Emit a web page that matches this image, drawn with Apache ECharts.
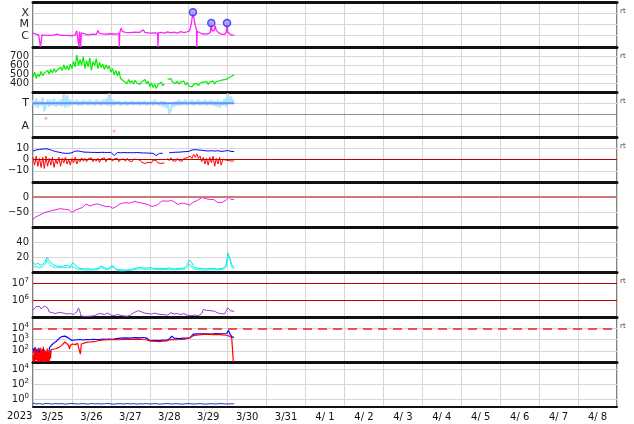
<!DOCTYPE html>
<html><head><meta charset="utf-8">
<script src="https://cdn.jsdelivr.net/npm/echarts@6/dist/echarts.min.js"></script>
<style>html,body{margin:0;padding:0;background:#fff}#c{width:634px;height:424px}</style>
</head><body><div id="c"></div>
<script>
// ---------- DATA (hours since 2023-03-25 00:00 UT) ----------
const yearLabel = '2023';
const days = ['3/25','3/26','3/27','3/28','3/29','3/30','3/31','4/ 1','4/ 2','4/ 3','4/ 4','4/ 5','4/ 6','4/ 7','4/ 8'];
const xrayClassLabels = {'-6':'C','-5':'M','-4':'X'};

const xray = [[0,1.7e-6],[2,1.4e-6],[3.5,1.2e-6],[4.3,1.2e-6],[4.6,1e-7],[5.3,1e-7],[5.6,1.2e-6],[8,1.1e-6],[12,1.1e-6],[15,1.4e-6],[17,1.1e-6],[21,1.1e-6],[24,1.0e-6],[26,1.2e-6],[27,2.8e-6],[28,2.6e-6],[28.3,1e-7],[28.7,2.4e-6],[29.4,1e-7],[29.8,1.8e-6],[31,1.3e-6],[34,1.2e-6],[37,1.4e-6],[39,1.3e-6],[40,2.9e-6],[41,1.6e-6],[44,1.4e-6],[48,1.5e-6],[51,1.4e-6],[53,1.6e-6],[53.2,1e-7],[53.5,2e-6],[54.3,4.8e-6],[55,2.5e-6],[57,2e-6],[60,1.9e-6],[63,2.1e-6],[66,2e-6],[68,3.4e-6],[69,2e-6],[72,1.7e-6],[75,1.8e-6],[76.8,1.7e-6],[77,1e-7],[77.3,1.8e-6],[79,2e-6],[81,1.7e-6],[83,2.2e-6],[85,1.8e-6],[87,2.1e-6],[89,1.7e-6],[91,2.3e-6],[93,1.9e-6],[95,2.2e-6],[96.5,2.8e-6],[97.5,1e-5],[98.6,1.2e-4],[99.3,3e-5],[100,9e-6],[100.8,3e-6],[101,1e-7],[101.2,2.5e-6],[102,2.2e-6],[104,1.5e-6],[106,1.4e-6],[108,1.5e-6],[109.3,2e-6],[109.9,1.35e-5],[110.4,2.5e-6],[111,1.7e-6],[111.7,3e-6],[112.3,7.7e-6],[113,3e-6],[114.5,1.8e-6],[116,1.4e-6],[118,1.3e-6],[119.2,2e-6],[119.6,1.35e-5],[120.1,2e-6],[121,1.4e-6],[122.5,1.1e-6],[124,1.2e-6]];
const flares = [[98.6,1.2e-4],[109.9,1.35e-5],[119.6,1.35e-5]];

// hourly solar wind speed, h = 0..124
const speedVals = [
470,520,450,500,470,530,480,510,490,540,
500,550,510,560,520,545,530,575,540,600,
550,590,545,610,560,640,580,710,590,660,
600,690,560,650,580,680,540,640,590,670,
560,630,570,610,550,600,560,590,520,560,
490,540,480,530,450,440,420,430,395,440,
400,425,390,430,400,420,385,415,400,440,
390,420,360,400,350,390,340,380,360,410,
370,390,null,440,420,450,410,430,395,420,
385,410,390,420,380,405,370,390,355,385,
365,395,370,400,385,410,390,415,385,410,
395,420,390,415,400,425,415,435,420,440,
450,460,470,480,490];

// hourly index values, h = 0..124 (T level = 3, A level = 1)
const tVals = [
3.3,2.7,3.4,2.6,3.2,2.8,3.5,2.3,2.2,3.3,
2.7,3.3,2.8,3.4,2.7,3.2,2.8,3.3,2.7,3.8,
2.6,3.7,2.7,3.3,2.8,3.2,2.9,3.3,2.8,3.2,
2.8,3.3,2.9,3.2,2.8,3.3,2.9,3.2,2.8,3.3,
2.9,3.2,2.8,3.3,2.9,3.4,2.8,3.85,2.7,3.3,
2.8,3.2,2.9,3.2,2.8,3.1,2.9,3.2,2.8,3.1,
2.9,3.2,2.85,3.1,2.9,3.2,2.8,3.15,2.9,3.2,
2.8,3.1,2.9,3.2,2.8,3.3,2.9,3.1,2.8,3.2,
2.7,3.2,2.6,3.0,2.1,2.4,3.1,2.7,3.2,2.8,
3.3,2.8,3.2,2.9,3.3,2.8,3.2,2.9,3.3,2.8,
3.2,2.9,3.3,2.8,3.2,2.9,3.3,2.8,3.2,2.9,
3.3,2.8,3.2,2.7,3.3,2.6,3.2,2.8,3.4,2.7,
3.85,3.0,3.6,3.1,3.2];
const tLevel = [[0,3],[124,3]];
const aDots = [[8,1.66],[50,0.53]];

// IMF: Bt every 2 h (h = 0..124), Bz hourly (h = 0..124)
const btVals = [7.5,8.5,9,9.3,9.5,9,8,7,6.5,5.8,
5.5,5.5,6,7.5,7.5,7,6.5,6.5,6.3,6.3,
6.2,6.4,6.3,6.2,6.4,3.5,6.2,6,6.2,6,
6.1,6,6.2,6,5.8,5.8,5.6,5.5,3.5,5.5,
5.5,null,6,6.2,6.5,6.5,6.8,7,7.2,8.5,
8.7,8.5,8.2,7.8,7.6,7.8,7.5,7.8,7.2,7.5,
8,7.2,7];
const bzVals = [
2,-5,3,-6,1,-7,2,-8,3,-6,
1,-5,2,-7,0,-4,2,-6,1,-3,
2,-4,0,-5,1,-3,2,-4,0,-2,
1.5,-1.5,1,-2,0.5,-1,1.5,-2,0.5,-1.5,
1,-2.5,0.5,-1,1.5,-2,0.5,-1,1,-1.5,
0.5,-1,1,-2,0,-1,0.5,-1.5,1,-1,
0,-2,0.5,-1,0,-1.5,-0.5,-2.5,-1,-3.5,
-5,-2.5,-1,-3,-0.5,-2,-1,-3,-2,-3.5,
-2,-3,null,1,-1,1.5,-1,0.5,-1.5,1,
-1,0.5,-1.5,1,-0.5,1.5,0.5,3,1,4.5,
2,5,1,3,-2,2,-4,1,-5,2,
-3,3,-6,1,-4,2,-5,0,-1.5,-0.5,
-2,-1,-0.5,-1.5,-1];

const dst = [[0,-74],[1.8,-66],[4.3,-60],[7.4,-51],[10.5,-47],[13.6,-43],[16.6,-39],[19.7,-41],[22.2,-43],[24,-51],[26.5,-43],[29,-38],[30.8,-34],[32.7,-23],[35.1,-30],[37.6,-25],[40,-23],[42.5,-28],[45,-32],[47.5,-32],[49.3,-38],[51.8,-30],[53.7,-23],[56.7,-19],[59.8,-20],[62.9,-14],[64.7,-18],[67.2,-20],[70.3,-24],[73.4,-32],[76.4,-27],[79.5,-13],[82.6,-14],[85.7,-12],[87.5,-18],[89.4,-25],[91.9,-20],[94.3,-23],[96.8,-27],[98.6,-18],[101,-12],[104.2,-2],[106.7,-6],[109.1,-8],[111.6,-9],[114,-19],[116.5,-18],[119,-11],[120.8,0],[122,-8],[124,-8]];

const cyanA = [[0,12],[1.5,10],[3,12],[4.5,9],[6,10],[7.5,14],[8.5,19.5],[9.5,18],[10.5,14],[11.5,11],[13,9],[15,8],[17,7.5],[19,8],[21,9],[23,7],[24.5,12.5],[26,10],[27.5,6],[29,5],[31,4],[34,4.5],[37,3.5],[40,5],[42,8],[44,6],[46,4],[48,7.5],[49.5,8],[51,4],[54,3],[57,2.5],[60,3],[63,5],[66,6],[69,5],[72,6],[75,4.5],[78,5],[81,4.5],[84,5.5],[87,4],[90,5],[93,5],[95,9],[96.5,16],[98,12],[99.5,6],[102,5],[106,4],[110,5],[114,4],[117,5],[119,9],[120.2,25.5],[121.3,24],[122.5,10],[124,6]];
const cyanB = [[0,8],[2,7],[4,6],[6,7],[7.5,10],[8.5,16],[9.5,14],[10.5,9],[12,7],[14,6],[16,6.5],[18,5.5],[20,6],[22,5.5],[24,7],[25,9],[26.5,5],[28,3.5],[31,3],[34,2.5],[37,3],[40,3],[42,6],[44,4],[46,3],[48,5],[50,6],[52,2],[55,1.5],[58,2],[61,2.5],[64,4],[67,4],[70,3.5],[73,4],[76,3.5],[79,3],[82,3.5],[85,3],[88,3],[91,3.5],[94,4],[95.5,7],[96.5,11],[97.5,9],[99,4],[102,3],[106,2.5],[110,3],[114,3],[117,3.5],[119,6],[120.2,21],[121.3,18],[122.5,7],[124,4]];

const electronFlux = [[0,2.5e5],[1,3.2e5],[2,4.2e5],[4,4.3e5],[5,3e5],[6,2.5e5],[7,4.5e5],[8,5.5e5],[9,3.5e5],[10,2e5],[11,2.4e5],[12,1.8e5],[14,1.6e5],[16,1.9e5],[17,1.5e5],[19,1.7e5],[21,1.5e5],[23,1.6e5],[25,1.4e5],[27,2e5],[28,3.5e5],[29,2e5],[29.5,1.2e5],[31,1.1e5],[35,1.1e5],[38,1.2e5],[40,1.5e5],[42,1.6e5],[44,1.4e5],[46,1.7e5],[48,1.3e5],[50,1.2e5],[52,1.4e5],[55,1.2e5],[58,1.1e5],[60,1.3e5],[62,1.8e5],[63,2.2e5],[65,2.4e5],[67,2e5],[69,1.7e5],[71,1.6e5],[73,1.5e5],[75,1.7e5],[77,1.5e5],[80,1.4e5],[83,1.3e5],[85,1.8e5],[87,1.5e5],[89,1.6e5],[91,1.4e5],[93,1.6e5],[95,1.3e5],[98,1.2e5],[100,1.3e5],[102,1.2e5],[104,1.6e5],[105,2.8e5],[106,3.2e5],[107,2.5e5],[108,3e5],[109,2.4e5],[110,1.9e5],[112,2.2e5],[114,1.7e5],[116,1.6e5],[118,1.5e5],[119,2.2e5],[120,3.5e5],[121,3.2e5],[122,2.3e5],[124,2.2e5]];
const electronLevels = [1e6, 1e7];

const fluxBlue = [[0,160],[0.6,70],[1.2,200],[1.8,50],[2.4,150],[3,30],[3.6,180],[4.2,60],[4.8,120],[5.4,25],[6,140],[6.6,40],[7.2,100],[7.8,20],[8.4,80],[9,12],[9.6,10],[10.2,200],[11.5,320],[13,500],[14.6,740],[16,1200],[17.7,1800],[19.7,2000],[21.8,1400],[23.8,850],[25,1000],[27,950],[29,1000],[31,900],[33,1000],[35,950],[37,1050],[39,1000],[41,1000],[43,1100],[45,1050],[47,1100],[49,1050],[51.6,1200],[54,1300],[57,1400],[60,1350],[63,1450],[66,1400],[68,1500],[70,1350],[72,800],[75,850],[78,800],[80,900],[82.4,850],[84,1100],[85.5,2000],[87,1300],[90,1200],[93,1300],[96.8,1400],[98.8,3000],[102,3200],[105,3100],[107,3200],[110,3000],[113,3300],[116,3100],[119.4,3400],[120.4,6300],[121.5,3000],[122.5,1800],[124,1500]];
const fluxRed = [[0,40],[0.4,10],[0.8,120],[1.2,10],[1.6,200],[2,15],[2.4,80],[2.8,10],[3.2,150],[3.6,10],[4,60],[4.4,10],[4.8,180],[5.2,12],[5.6,100],[6,10],[6.4,220],[6.8,10],[7.2,130],[7.6,10],[8,90],[8.4,10],[8.8,160],[9.2,12],[9.6,70],[10,10],[10.4,110],[10.8,20],[11.2,130],[12,100],[14,150],[16,200],[17.7,300],[19.7,600],[21.8,320],[22.5,150],[23,300],[24.5,400],[26,350],[27.5,450],[28.5,400],[29.2,50],[29.8,400],[31,500],[33,550],[35,600],[37,650],[39,700],[41,850],[44,900],[47,950],[50,1000],[53,950],[56,1000],[59,1050],[62,1000],[65,1100],[68,1000],[70,950],[72,750],[75,700],[78,650],[80,700],[82.4,750],[85,1000],[88,950],[91,1000],[94,1100],[96.8,1500],[98.8,2200],[102,2500],[105,2800],[108,3000],[111,2700],[114,2900],[117,2600],[119.4,2400],[121,2000],[122.5,1400],[123,1300],[123.5,10]];
const fluxThreshold = 1e4;

// every 2 h, h = 0..124
const bottomVals = [0.3,0.26,0.28,0.24,0.3,0.27,0.25,0.29,0.26,0.28,0.24,0.27,0.3,0.26,0.25,0.28,0.27,0.24,0.29,0.26,0.28,0.25,0.27,0.3,0.26,0.24,0.28,0.27,0.25,0.29,0.26,0.28,0.24,0.27,0.26,0.29,0.25,0.27,0.28,0.24,0.26,0.29,0.27,0.25,0.28,0.26,0.24,0.27,0.29,0.26,0.25,0.28,0.27,0.24,0.26,0.28,0.25,0.27,0.29,0.26,0.25,0.27,0.26];

// ---------- CHART ----------
const FONT = 'DejaVu Sans';
const GRID_C = '#d6d6d6';
const N = 9, TOP = 2, PH = 45;
const hourly = (arr, step) => arr.map((v, i) => [i * step, v]);

const grids = [], xAxes = [], series = [];
for (let i = 0; i < N; i++) {
  grids.push({left: 33, right: 17, top: TOP + i * PH, height: PH});
  xAxes.push({type: 'value', gridIndex: i, min: 0, max: 360, interval: 24, position: 'bottom',
    axisLabel: {show: false}, axisTick: {show: false},
    splitLine: {show: true, lineStyle: {color: GRID_C, width: 1}},
    axisLine: {show: true, onZero: false, lineStyle: {color: '#111', width: i === N - 1 ? 2 : 3}}});
}
grids.push({left: 33, right: 17, top: TOP, height: N * PH, show: true, borderColor: '#000', borderWidth: 1, backgroundColor: 'transparent'});
xAxes.push({type: 'value', gridIndex: N, position: 'top', min: 0, max: 360,
  axisLabel: {show: false}, axisTick: {show: false}, splitLine: {show: false},
  axisLine: {show: true, onZero: false, lineStyle: {color: '#111', width: 3}}});
xAxes.push({type: 'category', gridIndex: N, position: 'bottom', data: days, boundaryGap: true,
  axisLine: {show: false}, axisTick: {show: false}, splitLine: {show: false},
  axisLabel: {interval: 0, fontFamily: FONT, fontSize: 10, color: '#111', margin: 5}});

const lbl = (extra) => Object.assign({fontFamily: FONT, fontSize: 10, color: '#222', margin: 4, showMinLabel: false, showMaxLabel: false}, extra || {});
const sup = (v) => { const n = Math.round(Math.log10(v)); return '{b|10}{s|' + n + '}'; };
const supRich = {b: {fontFamily: FONT, fontSize: 10, color: '#222'}, s: {fontFamily: FONT, fontSize: 7, color: '#222', padding: [0, 0, 7, 0]}};
const ybase = (i, o) => Object.assign({gridIndex: i, axisLine: {show: false}, axisTick: {show: false},
  splitLine: {show: true, lineStyle: {color: GRID_C, width: 1}}}, o);

const yA = [
  ybase(0, {type: 'log', min: 1e-7, max: 1e-3, axisLabel: lbl({fontSize: 11, formatter: v => xrayClassLabels[String(Math.round(Math.log10(v)))] || ''})}),
  ybase(1, {type: 'value', min: 300, max: 800, interval: 100, axisLabel: lbl()}),
  ybase(2, {type: 'value', min: 0, max: 4, interval: 1, axisLabel: lbl({fontSize: 11, formatter: v => v === 3 ? 'T' : (v === 1 ? 'A' : '')})}),
  ybase(3, {type: 'value', min: -20, max: 20, interval: 10, axisLabel: lbl({formatter: v => v < 0 ? '\u2212' + (-v) : String(v)})}),
  ybase(4, {type: 'value', min: -100, max: 50, interval: 50, axisLabel: lbl({formatter: v => v < 0 ? '\u2212' + (-v) : String(v)})}),
  ybase(5, {type: 'value', min: 0, max: 60, interval: 20, axisLabel: lbl()}),
  ybase(6, {type: 'log', min: 1e5, max: Math.pow(10, 7.68), splitLine: {show: false}, axisLabel: lbl({formatter: sup, rich: supRich})}),
  ybase(7, {type: 'log', min: 10, max: 1e5, axisLabel: lbl({formatter: sup, rich: supRich})}),
  ybase(8, {type: 'log', logBase: 100, min: 0.1, max: 1e5, axisLabel: lbl({formatter: sup, rich: supRich})}),
  {type: 'value', gridIndex: N, show: false, min: 0, max: 1}
];

const line = (i, data, color, width, extra) => Object.assign({type: 'line', xAxisIndex: i, yAxisIndex: i, data: data,
  showSymbol: false, symbol: 'none', silent: true, animation: false, connectNulls: false,
  lineStyle: {color: color, width: width || 1}, itemStyle: {color: color}}, extra || {});
const mk = (vals, color, width, type) => ({silent: true, symbol: 'none', animation: false, label: {show: false},
  lineStyle: {color: color, width: width, type: type || 'solid'}, data: vals.map(v => ({yAxis: v}))});

series.push(line(0, xray, '#ff22ff', 1.3));
series.push({type: 'scatter', xAxisIndex: 0, yAxisIndex: 0, data: flares, symbolSize: 7, silent: true, animation: false,
  itemStyle: {color: '#9a9aff', borderColor: '#2a2aee', borderWidth: 1.5}, z: 5});
series.push(line(1, hourly(speedVals, 1), '#00ee00', 1.2));
series.push(line(2, hourly(tVals, 1), '#aee6ff', 2.2, {markLine: mk([2], '#8c8c8c', 1)}));
series.push(line(2, tLevel, '#6a8cff', 2));
series.push({type: 'scatter', xAxisIndex: 2, yAxisIndex: 2, data: aDots, symbolSize: 3, silent: true, animation: false, itemStyle: {color: '#ff90ff'}});
series.push(line(3, hourly(bzVals, 1), '#ff0000', 1, {markLine: mk([0], '#c00000', 1)}));
series.push(line(3, hourly(btVals, 2), '#0000ff', 1));
series.push(line(4, dst, '#ee22ee', 1, {markLine: mk([0], '#d07878', 2)}));
series.push(line(5, cyanA, '#00e5e5', 1));
series.push(line(5, cyanB, '#22eeee', 1));
series.push(line(6, electronFlux, '#9a35d6', 1, {markLine: mk(electronLevels, '#c00000', 1)}));
series.push(line(7, fluxBlue, '#0000ff', 1.2, {markLine: mk([fluxThreshold], '#ee2222', 1.5, [9, 6])}));
series.push(line(7, fluxRed, '#ff0000', 1.2));
series.push(line(8, hourly(bottomVals, 2), '#2233dd', 1));

const graphics = [{type: 'text', left: 7, top: 411, style: {text: yearLabel, font: '10px "DejaVu Sans"', fill: '#111'}}];
[0, 1, 2, 3, 6, 7].forEach(i => graphics.push({type: 'text', left: 620, top: TOP + i * PH + 6,
  style: {text: 'rt', font: '7px "DejaVu Sans"', fill: '#444'}}));

const chart = echarts.init(document.getElementById('c'));
chart.setOption({
  animation: false, backgroundColor: '#fff',
  textStyle: {fontFamily: FONT},
  grid: grids, xAxis: xAxes, yAxis: yA, series: series, graphic: graphics
});
</script></body></html>
